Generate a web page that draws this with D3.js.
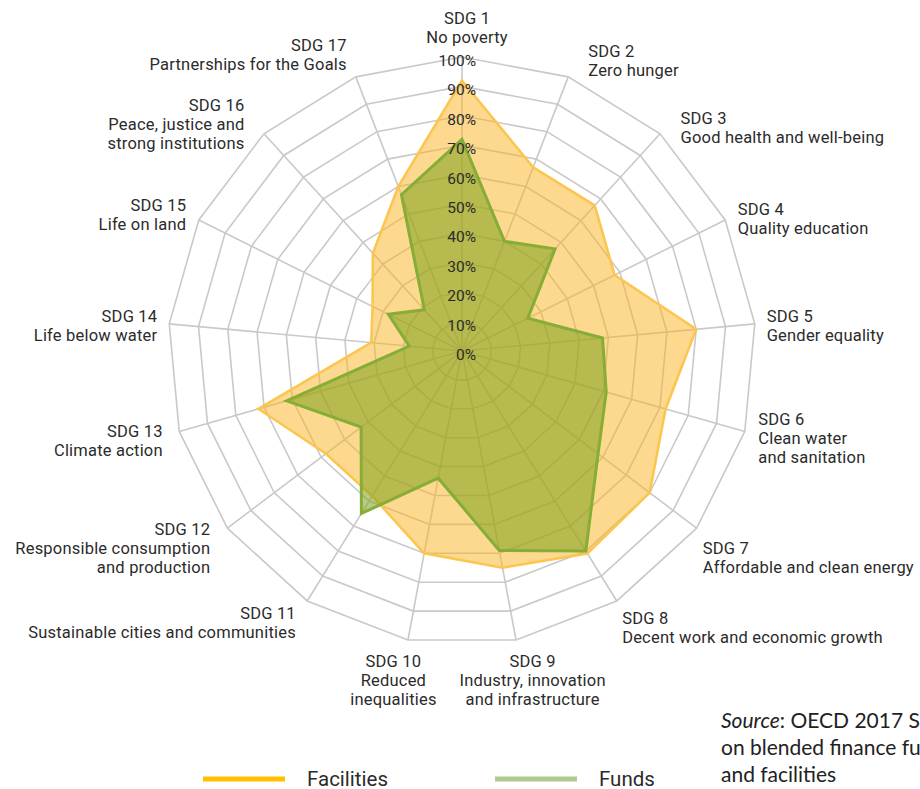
<!DOCTYPE html>
<html>
<head>
<meta charset="utf-8">
<script src="https://cdn.jsdelivr.net/npm/d3@7"></script>
<style>
  body { margin: 0; background: #ffffff; }
  .lbl { font-family: Roboto, "Liberation Sans", sans-serif; fill: #2b2b2b; }
  .src { font-family: Lato, "Liberation Sans", sans-serif; fill: #222; }
</style>
</head>
<body>
<div id="chart"></div>
<script>
// data (share of vehicles, %)
const sdgCodes = ["SDG 1", "SDG 2", "SDG 3", "SDG 4", "SDG 5", "SDG 6", "SDG 7", "SDG 8", "SDG 9",
                  "SDG 10", "SDG 11", "SDG 12", "SDG 13", "SDG 14", "SDG 15", "SDG 16", "SDG 17"];
const sdgNames = [
    ["No poverty"],
    ["Zero hunger"],
    ["Good health and well-being"],
    ["Quality education"],
    ["Gender equality"],
    ["Clean water", "and sanitation"],
    ["Affordable and clean energy"],
    ["Decent work and economic growth"],
    ["Industry, innovation", "and infrastructure"],
    ["Reduced", "inequalities"],
    ["Sustainable cities and communities"],
    ["Responsible consumption", "and production"],
    ["Climate action"],
    ["Life below water"],
    ["Life on land"],
    ["Peace, justice and", "strong institutions"],
    ["Partnerships for the Goals"]
];
const facilities = [92, 67, 67, 58, 80, 72, 80, 81, 75, 70, 58, 58, 72, 31, 34, 45, 60];
const funds      = [72, 40, 47, 25, 48, 51, 58, 80, 69, 44, 65, 43, 62, 18, 28, 19, 57];
const tickValues = [0, 10, 20, 30, 40, 50, 60, 70, 80, 90, 100];
const seriesNames = ["Facilities", "Funds"];
const sourceLines = ["OECD 2017 Survey", "on blended finance funds", "and facilities"];

//**********************************************************************************************
//                                  CONSTANTS
//**********************************************************************************************
const WIDTH = 920, HEIGHT = 789;
const CX = 462, CY = 351, RADIUS = 294;
const GRID_COLOR = "#c9c9c9";
const FAC_FILL = "rgba(250,180,30,0.5)", FAC_STROKE = "#fcc54e";
const FUND_FILL = "rgba(128,163,28,0.56)", FUND_STROKE = "#86ad35";
const LEGEND_COLORS = ["#ffc000", "#b1c98c"];
const LINE_H = 19;
const LABEL_PAD = 14;
// hand nudges for axis labels [dx, dy], same order as sdgCodes
const LABEL_NUDGE = [[5, 0], [15, -4], [11, 4], [0, 4], [-2, 2], [0, 2], [-5, 20], [-2, 14], [14, 0],
                     [-12, 0], [-4, 9], [-6, 11], [-3, 5], [2, 2], [0, 0], [-10, 0], [-4, -10]];

const n = sdgCodes.length;
const angle = d3.scaleLinear().domain([0, n]).range([0, 2 * Math.PI]);
const r = d3.scaleLinear().domain([0, 100]).range([0, RADIUS]);

const svg = d3.select("#chart").append("svg")
    .attr("width", WIDTH)
    .attr("height", HEIGHT);

const g = svg.append("g").attr("transform", `translate(${CX},${CY})`);

const pt = (i, v) => [Math.sin(angle(i)) * r(v), -Math.cos(angle(i)) * r(v)];

//**********************************************************************************************
//                                  GRID
//**********************************************************************************************
const ringLine = d3.lineRadial()
    .angle((d, i) => angle(i))
    .radius(d => r(d))
    .curve(d3.curveLinearClosed);

g.append("g").selectAll("path")
    .data(tickValues.filter(t => t > 0))
    .join("path")
    .attr("d", t => ringLine(d3.range(n).map(() => t)))
    .attr("fill", "none")
    .attr("stroke", GRID_COLOR)
    .attr("stroke-width", 1.6);

g.append("g").selectAll("line")
    .data(d3.range(n))
    .join("line")
    .attr("x1", 0).attr("y1", 0)
    .attr("x2", i => pt(i, 100)[0])
    .attr("y2", i => pt(i, 100)[1])
    .attr("stroke", GRID_COLOR)
    .attr("stroke-width", 1.6);

//**********************************************************************************************
//                                  SERIES
//**********************************************************************************************
const areaLine = d3.lineRadial()
    .angle((d, i) => angle(i))
    .radius(d => r(d))
    .curve(d3.curveLinearClosed);

g.append("path")
    .datum(facilities)
    .attr("d", areaLine)
    .attr("fill", FAC_FILL)
    .attr("stroke", FAC_STROKE)
    .attr("stroke-width", 2.5)
    .attr("stroke-linejoin", "miter");

g.append("path")
    .datum(funds)
    .attr("d", areaLine)
    .attr("fill", FUND_FILL)
    .attr("stroke", FUND_STROKE)
    .attr("stroke-width", 3)
    .attr("stroke-linejoin", "miter");

//**********************************************************************************************
//                                  TICK LABELS
//**********************************************************************************************
g.append("g").selectAll("text")
    .data(tickValues)
    .join("text")
    .attr("class", "lbl")
    .attr("x", 14)
    .attr("y", t => -r(t) + 9)
    .attr("text-anchor", "end")
    .style("font-size", "15.5px")
    .text(t => t + "%");

//**********************************************************************************************
//                                  AXIS LABELS
//**********************************************************************************************
d3.range(n).forEach(i => {
    const a = angle(i);
    const s = Math.sin(a), c = -Math.cos(a);
    let x = s * (RADIUS + LABEL_PAD) + LABEL_NUDGE[i][0];
    let y = c * (RADIUS + LABEL_PAD) + LABEL_NUDGE[i][1];
    const lines = [sdgCodes[i]].concat(sdgNames[i]);
    let anchor = "middle";
    if (Math.abs(s) >= 0.25) anchor = s > 0 ? "start" : "end";

    let firstBase;
    if (anchor === "middle" && c < 0) firstBase = y - (lines.length - 1) * LINE_H;      // top label
    else if (anchor === "middle") firstBase = y + 13;                                 // bottom labels
    else firstBase = y - (lines.length - 1) * LINE_H / 2 + 6.5;

    const t = g.append("text")
        .attr("class", "lbl")
        .attr("text-anchor", anchor)
        .style("font-size", "16.5px")
        .style("letter-spacing", "0.2px");
    lines.forEach((ln, k) => {
        t.append("tspan")
            .attr("x", x)
            .attr("y", firstBase + k * LINE_H)
            .text(ln);
    });
});

//**********************************************************************************************
//                                  LEGEND
//**********************************************************************************************
const legend = svg.append("g").attr("transform", "translate(203,779)");
seriesNames.forEach((name, i) => {
    const lg = legend.append("g").attr("transform", `translate(${i * 292},0)`);
    lg.append("line")
        .attr("x1", 0).attr("x2", 82)
        .attr("y1", 0).attr("y2", 0)
        .attr("stroke", LEGEND_COLORS[i])
        .attr("stroke-width", 5);
    lg.append("text")
        .attr("class", "lbl")
        .attr("x", 104)
        .attr("y", 7)
        .style("font-size", "20.5px")
        .text(name);
});

//**********************************************************************************************
//                                  SOURCE NOTE
//**********************************************************************************************
const src = svg.append("text")
    .attr("class", "src")
    .style("font-size", "21px");
const first = src.append("tspan").attr("x", 721).attr("y", 728);
first.append("tspan").style("font-style", "italic").text("Source");
first.append("tspan").text(": " + sourceLines[0]);
sourceLines.slice(1).forEach((ln, k) => {
    src.append("tspan").attr("x", 721).attr("y", 755 + k * 27).text(ln);
});
</script>
</body>
</html>
